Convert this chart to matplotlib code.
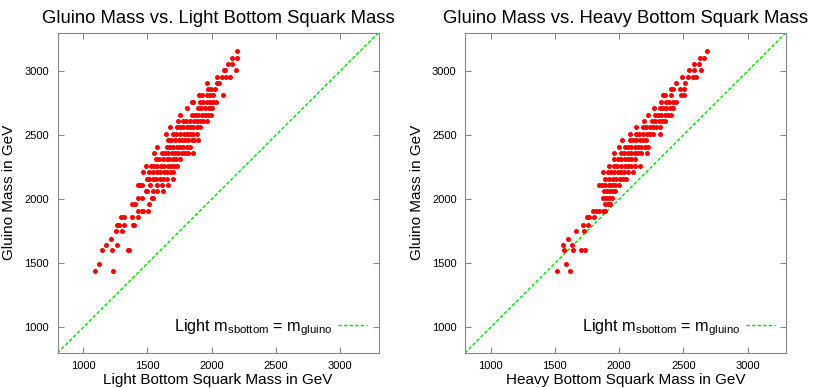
import matplotlib.pyplot as plt

plt.rcParams['font.family'] = ['Liberation Sans', 'DejaVu Sans']
plt.rcParams['mathtext.default'] = 'regular'

# gluino mass levels (GeV) and sbottom masses
gluino = [1440, 1495, 1600, 1640, 1690, 1750, 1800, 1860, 1910, 1960, 2010,
          2060, 2110, 2160, 2210, 2260, 2310, 2360, 2410, 2460, 2510, 2560,
          2610, 2660, 2710, 2760, 2810, 2860, 2910, 2955, 3005, 3055, 3105, 3155]

light_rows = [
    [1093, 1234], [1125], [1148, 1221, 1345, 1356], [1174, 1260], [1213],
    [1255, 1299], [1265, 1278, 1317, 1384, 1397], [1293, 1317, 1379, 1423],
    [1423, 1454, 1467, 1506], [1377, 1403, 1512], [1428, 1454, 1532, 1545],
    [1486, 1499, 1545, 1571, 1623],
    [1423, 1441, 1457, 1519, 1571, 1610, 1662],
    [1493, 1512, 1545, 1566, 1597, 1618, 1649, 1701],
    [1467, 1514, 1545, 1573, 1597, 1626, 1649, 1672, 1701],
    [1486, 1525, 1553, 1576, 1605, 1628, 1657, 1680, 1703, 1732],
    [1566, 1592, 1620, 1649, 1670, 1701, 1724, 1753],
    [1550, 1610, 1633, 1662, 1690, 1714, 1738, 1766, 1789, 1818, 1852],
    [1576, 1649, 1672, 1701, 1730, 1753, 1776, 1805, 1831],
    [1662, 1685, 1714, 1742, 1766, 1789, 1818, 1844, 1866, 1896],
    [1641, 1701, 1724, 1753, 1781, 1805, 1828, 1857, 1883],
    [1675, 1727, 1750, 1779, 1807, 1831, 1854, 1883, 1909],
    [1735, 1779, 1802, 1831, 1860, 1883, 1906, 1935, 1961],
    [1753, 1844, 1867, 1896, 1924, 1948, 1971, 1992],
    [1810, 1896, 1919, 1948, 1976, 2000],
    [1844, 1857, 1909, 1932, 1961, 1990, 2013, 2034],
    [1899, 1922, 1966, 1987, 2013, 2086],
    [1974, 1992, 2026], [1961, 2041, 2054], [2044, 2078, 2112, 2143],
    [2096, 2106, 2187], [2125, 2161], [2161, 2200], [2195],
]

heavy_rows = [
    [1516, 1620], [1586], [1573, 1638, 1703, 1734], [1565, 1633], [1599],
    [1664, 1729], [1721, 1760], [1750, 1768, 1807],
    [1794, 1820, 1846, 1872, 1890], [1890, 1911, 1932],
    [1877, 1900, 1922, 1945], [1885, 1906, 1927, 1950, 1971],
    [1841, 1864, 1893, 1919, 1945, 1971, 1997],
    [1890, 1924, 1950, 1976, 2003, 2029, 2055],
    [1872, 1911, 1935, 1963, 1992, 2016, 2040, 2068, 2107],
    [1924, 1963, 1987, 2016, 2044, 2068, 2092, 2120, 2159],
    [1958, 1989, 2013, 2042, 2070, 2094, 2120],
    [1963, 2016, 2040, 2068, 2096, 2120, 2144, 2172, 2219],
    [1995, 2042, 2066, 2094, 2122, 2146, 2170, 2198, 2224],
    [2021, 2081, 2105, 2133, 2161, 2185, 2211],
    [2081, 2133, 2157, 2185, 2213, 2237, 2261, 2315],
    [2133, 2185, 2209, 2237, 2265, 2289, 2315],
    [2193, 2255, 2279, 2307, 2335, 2359],
    [2224, 2276, 2300, 2328, 2356, 2380, 2406],
    [2268, 2315, 2339, 2367, 2395, 2419],
    [2323, 2367, 2391, 2419, 2445],
    [2341, 2354, 2406, 2479, 2505],
    [2406, 2419, 2471, 2505], [2445, 2510], [2490, 2536, 2575, 2601],
    [2542, 2583, 2640], [2583, 2622], [2633, 2661], [2680],
]

panels = [
    ('Gluino Mass vs. Light Bottom Squark Mass', 'Light Bottom Squark Mass in GeV', light_rows),
    ('Gluino Mass vs. Heavy Bottom Squark Mass', 'Heavy Bottom Squark Mass in GeV', heavy_rows),
]

fig = plt.figure(figsize=(8.3, 3.88), dpi=100)
lefts = [0.0693, 0.5602]
lim = (800, 3300)

for left, (title, xlabel, rows) in zip(lefts, panels):
    ax = fig.add_axes([left, 0.0902, 0.387, 0.826])
    xs = [x for row in rows for x in row]
    ys = [g for g, row in zip(gluino, rows) for _ in row]
    ax.plot(xs, ys, 'o', color='#ff0000', ms=3.6, mew=0, zorder=3)
    ax.plot(lim, lim, '--', color='#00dd00', lw=1.0, dashes=(2.5, 1.5),
            label=r'Light m$_{sbottom}$ = m$_{gluino}$')
    ax.set_xlim(lim)
    ax.set_ylim(lim)
    ax.set_xticks([1000, 1500, 2000, 2500, 3000])
    ax.set_yticks([1000, 1500, 2000, 2500, 3000])
    ax.tick_params(direction='in', length=4, color='#888888', labelsize=8,
                   top=True, right=True, pad=6)
    for s in ax.spines.values():
        s.set_color('#888888')
    ax.set_title(title, fontsize=13.3, pad=7)
    ax.set_xlabel(xlabel, fontsize=11, labelpad=1)
    ax.set_ylabel('Gluino Mass in GeV', fontsize=11, labelpad=6)
    ax.legend(loc='center right', bbox_to_anchor=(0.965, 0.08), frameon=False,
              markerfirst=False, fontsize=11.7, handlelength=1.8,
              handletextpad=0.35, borderaxespad=0, borderpad=0)

fig.savefig('out.png', dpi=100)
